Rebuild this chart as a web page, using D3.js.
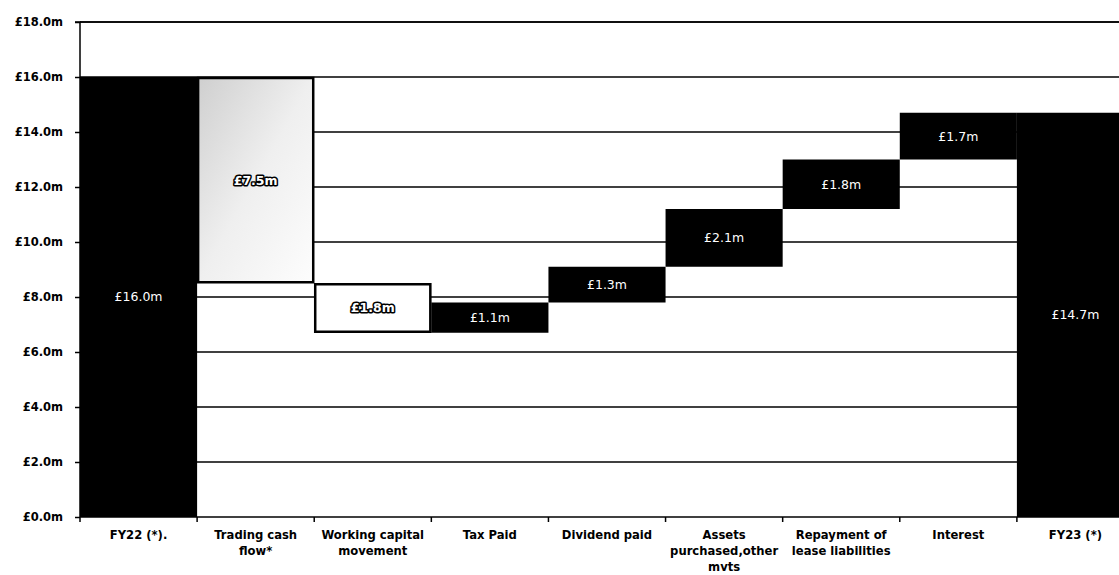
<!DOCTYPE html>
<html><head><meta charset="utf-8">
<script src="https://cdn.jsdelivr.net/npm/d3@7"></script>
<style>
html,body{margin:0;padding:0;background:#fff;}
svg{display:block;}
</style></head>
<body>
<svg id="chart" width="1119" height="575"></svg>
<script>
const categories = [
  ["FY22 (*)."],
  ["Trading cash", "flow*"],
  ["Working capital", "movement"],
  ["Tax Paid"],
  ["Dividend paid"],
  ["Assets", "purchased,other", "mvts"],
  ["Repayment of", "lease liabilities"],
  ["Interest"],
  ["FY23 (*)"]
];
const startValue = 16.0;
const deltas = [-7.5, -1.8, 1.1, 1.3, 2.1, 1.8, 1.7];
const endValue = 14.7;
const barLabels = ["£16.0m", "£7.5m", "£1.8m", "£1.1m", "£1.3m", "£2.1m", "£1.8m", "£1.7m", "£14.7m"];
const barStyles = ["solid", "gradient", "outline", "solid", "solid", "solid", "solid", "solid", "solid"];
const yTicks = [0, 2, 4, 6, 8, 10, 12, 14, 16, 18];

(function () {
const bars = [];
bars.push({lo: 0, hi: startValue});
let run = startValue;
deltas.forEach(d => {
  const next = +(run + d).toFixed(2);
  bars.push({lo: Math.min(run, next), hi: Math.max(run, next)});
  run = next;
});
bars.push({lo: 0, hi: endValue});
bars.forEach((b, i) => { b.cat = i; b.label = barLabels[i]; b.style = barStyles[i]; });

const svg = d3.select("#chart");
const pL = 80, pR = 1134, pT = 22, pB = 517;

const x = d3.scaleBand().domain(d3.range(categories.length)).range([pL, pR]).padding(0);
const y = d3.scaleLinear().domain([0, 18]).range([pB, pT]);

const defs = svg.append("defs");
const grad = defs.append("linearGradient").attr("id", "tcf").attr("x1", "0").attr("y1", "0").attr("x2", "1").attr("y2", "1");
grad.append("stop").attr("offset", "0").attr("stop-color", "#cfcfcf");
grad.append("stop").attr("offset", "0.5").attr("stop-color", "#efefef");
grad.append("stop").attr("offset", "1").attr("stop-color", "#fdfdfd");

const font = "'DejaVu Sans', Verdana, sans-serif";

// gridlines
svg.append("g").selectAll("line").data(yTicks.filter(t => t > 0)).join("line")
  .attr("x1", pL).attr("x2", pR)
  .attr("y1", d => y(d)).attr("y2", d => y(d))
  .attr("stroke", "#000").attr("stroke-width", 1.5);

// bars
const g = svg.append("g");
g.selectAll("rect").data(bars).join("rect")
  .attr("x", d => x(d.cat) + (d.style === "solid" ? 0 : 1))
  .attr("width", d => x.bandwidth() - (d.style === "solid" ? 0 : 2))
  .attr("y", d => y(d.hi) + (d.style === "solid" ? 0 : 1))
  .attr("height", d => y(d.lo) - y(d.hi) - (d.style === "solid" ? 0 : 2))
  .attr("fill", d => d.style === "solid" ? "#000" : (d.style === "gradient" ? "url(#tcf)" : "#fff"))
  .attr("stroke", d => d.style === "solid" ? "none" : "#000")
  .attr("stroke-width", 2.5);

// bar labels
g.selectAll("text").data(bars).join("text")
  .attr("x", d => x(d.cat) + x.bandwidth() / 2)
  .attr("y", d => y((d.lo + d.hi) / 2))
  .attr("dy", "0.35em")
  .attr("text-anchor", "middle")
  .attr("font-family", font)
  .attr("font-size", 12.5)
  .attr("font-weight", d => d.style === "solid" ? "normal" : "bold")
  .attr("fill", "#fff")
  .attr("stroke", d => d.style === "solid" ? "none" : "#000")
  .attr("stroke-width", d => d.style === "solid" ? 0 : 3)
  .attr("paint-order", "stroke")
  .attr("stroke-linejoin", "round")
  .text(d => d.label);

// y axis
const yAxis = d3.axisLeft(y).tickValues(yTicks).tickSize(5).tickPadding(12)
  .tickFormat(d => "£" + d.toFixed(1) + "m");
const ya = svg.append("g").attr("transform", `translate(${pL},0)`).call(yAxis);
ya.select(".domain").attr("stroke", "#000").attr("stroke-width", 1.5).attr("d", `M-5,${pT}H0V${pB}`);
ya.selectAll(".tick line").attr("stroke-width", 1.5);
ya.selectAll("text").attr("font-family", font).attr("font-size", 11.5).attr("font-weight", "bold").attr("fill", "#000");

// top border
svg.append("line").attr("x1", pL).attr("x2", pR).attr("y1", pT).attr("y2", pT)
  .attr("stroke", "#000").attr("stroke-width", 1.5);

// x axis
const xa = svg.append("g").attr("transform", `translate(0,${pB})`);
xa.append("line").attr("x1", pL).attr("x2", pR).attr("stroke", "#000").attr("stroke-width", 1.5);
xa.selectAll("line.tk").data(d3.range(categories.length + 1)).join("line").attr("class", "tk")
  .attr("x1", i => pL + i * x.bandwidth()).attr("x2", i => pL + i * x.bandwidth())
  .attr("y1", 0).attr("y2", 5).attr("stroke", "#000").attr("stroke-width", 1.5);

const cl = xa.selectAll("text").data(categories).join("text")
  .attr("x", (d, i) => x(i) + x.bandwidth() / 2)
  .attr("y", 22)
  .attr("text-anchor", "middle")
  .attr("font-family", font).attr("font-size", 11.6).attr("font-weight", "bold").attr("fill", "#000");
cl.selectAll("tspan").data(d => d).join("tspan")
  .attr("x", function() { return this.parentNode.getAttribute("x"); })
  .attr("dy", (d, i) => i === 0 ? 0 : 16)
  .text(d => d);
})();
</script>
</body></html>
